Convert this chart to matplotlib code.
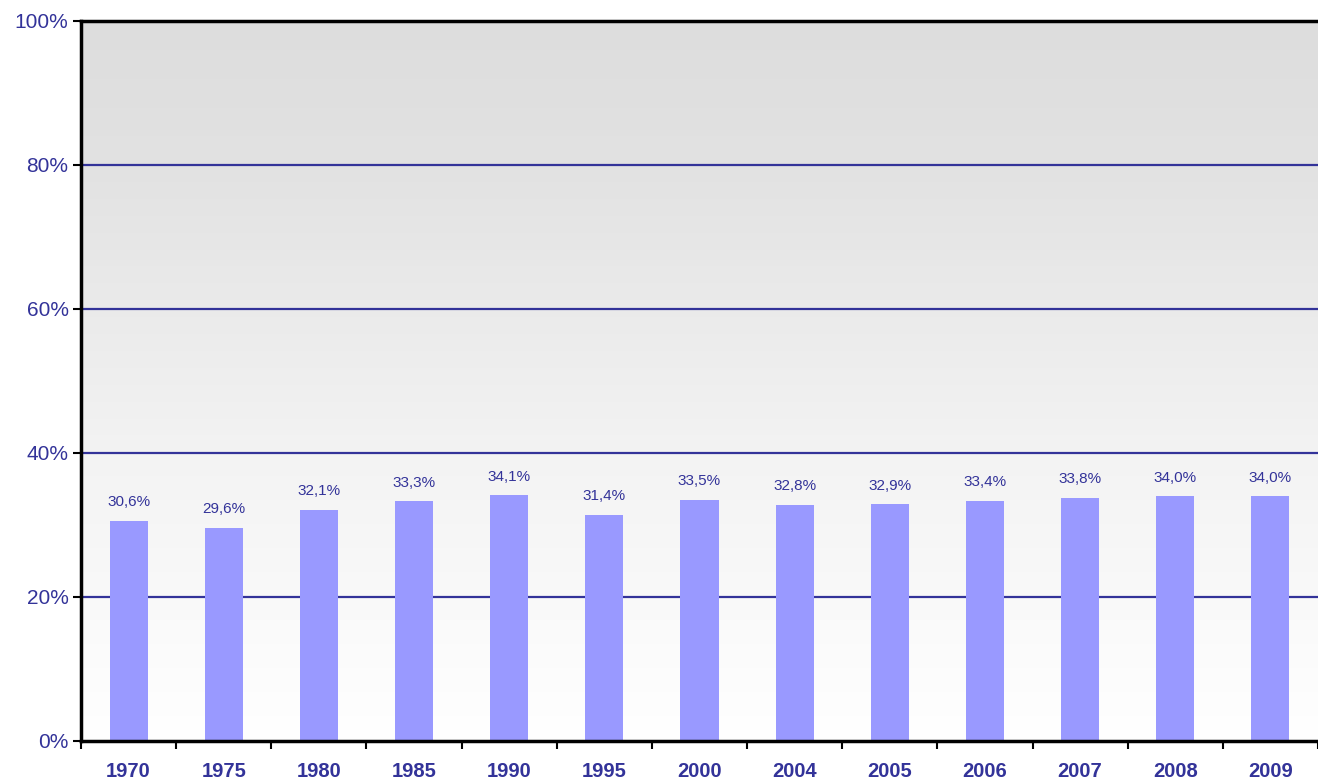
import matplotlib
matplotlib.use("Agg")
import matplotlib.pyplot as plt
import numpy as np
from matplotlib.colors import LinearSegmentedColormap

plt.rcParams['font.family'] = ['Liberation Sans', 'DejaVu Sans']

years = ["1970", "1975", "1980", "1985", "1990", "1995", "2000", "2004", "2005", "2006", "2007", "2008", "2009"]
values = [30.6, 29.6, 32.1, 33.3, 34.1, 31.4, 33.5, 32.8, 32.9, 33.4, 33.8, 34.0, 34.0]
yticks = [0, 20, 40, 60, 80, 100]

txt_color = "#333399"
fig = plt.figure(figsize=(13.18, 7.8), dpi=100)
ax = fig.add_axes([81/1318, 1-741/780, 1-81/1318, (741-21)/780])

n = len(years)
x = np.arange(n)

# gradient background
cmap = LinearSegmentedColormap.from_list(
    "bg", [(0.0, "#ffffff"), (0.4, "#f3f3f3"), (0.8, "#e2e2e2"), (1.0, "#dddddd")])
grad = np.linspace(0, 1, 256).reshape(-1, 1)
ax.imshow(grad, aspect='auto', cmap=cmap, origin='lower',
          extent=[-0.5, n-0.5, 0, 100], zorder=0)

for yv in yticks[1:-1]:
    ax.axhline(yv, color=txt_color, lw=1.6, zorder=1)

ax.bar(x, values, width=0.4, color="#9999ff", zorder=2)
for xi, v in zip(x, values):
    ax.text(xi, v + 1.6, f"{v:.1f}%".replace(".", ","), ha='center', va='bottom',
            fontsize=11, color=txt_color, zorder=3)

ax.set_xlim(-0.5, n-0.5)
ax.set_ylim(0, 100)
ax.set_yticks(yticks)
ax.set_yticklabels([f"{t}%" for t in yticks], fontsize=15, color=txt_color)
ax.set_xticks(np.arange(n+1) - 0.5)
ax.set_xticklabels([])
ax.set_xticks(x, minor=True)
ax.set_xticklabels(years, minor=True, fontsize=14.5, fontweight='bold', color=txt_color)
ax.tick_params(axis='x', which='minor', length=0, pad=15)
ax.tick_params(axis='x', which='major', length=6, width=1.5, direction='out')
ax.tick_params(axis='y', length=6, width=1.5, direction='out', pad=3)

for s in ['left', 'bottom', 'top']:
    ax.spines[s].set_linewidth(2.5)
    ax.spines[s].set_color('black')
ax.spines['right'].set_visible(False)

fig.savefig("out.png", dpi=100)
